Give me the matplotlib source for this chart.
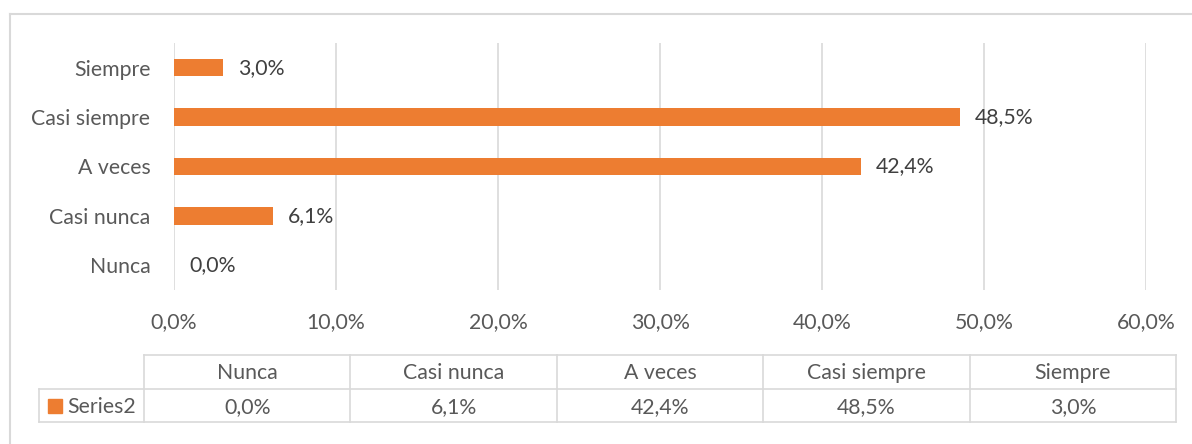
import numpy as np
import matplotlib.pyplot as plt
from matplotlib.patches import Rectangle
from matplotlib.lines import Line2D

categories = ["Nunca", "Casi nunca", "A veces", "Casi siempre", "Siempre"]
values = [0.0, 6.1, 42.4, 48.5, 3.0]
series_name = "Series2"
x_ticks = [0, 10, 20, 30, 40, 50, 60]

ORANGE = "#ED7D31"
GRID = "#D9D9D9"
TXT = "#595959"
LBL = "#404040"
FS = 15.3

plt.rcParams['font.family'] = ['Lato', 'DejaVu Sans']

W, H = 1192, 444
fig = plt.figure(figsize=(W / 100, H / 100), dpi=100)


def fx(px):
    return px / W


def fy(py):
    return 1 - py / H


def pct(v):
    return f"{v:.1f}".replace('.', ',') + '%'


# outer chart border (only top and left edges are inside the picture)
fig.lines.append(Line2D([fx(10), 1], [fy(14), fy(14)], transform=fig.transFigure,
                        color=GRID, linewidth=1.5))
fig.lines.append(Line2D([fx(10), fx(10)], [0, fy(14)], transform=fig.transFigure,
                        color=GRID, linewidth=1.5))

# bar chart
ax = fig.add_axes([fx(174), fy(290), fx(1146) - fx(174), fy(43) - fy(290)])
y = np.arange(len(categories))
ax.barh(y, values, height=0.35, color=ORANGE, zorder=3)
ax.set_xlim(0, 60)
ax.set_ylim(-0.5, len(categories) - 0.5)
ax.set_xticks(x_ticks)
ax.set_xticklabels([pct(t) for t in x_ticks], fontsize=FS, color=TXT)
ax.set_yticks(y)
ax.set_yticklabels(categories, fontsize=FS, color=TXT)
ax.tick_params(length=0)
ax.tick_params(axis='x', pad=16)
ax.tick_params(axis='y', pad=17)
ax.grid(axis='x', color=GRID, linewidth=1.2, zorder=0)
for s in ax.spines.values():
    s.set_visible(False)

for yi, v in zip(y, values):
    ax.annotate(pct(v), (v, yi), xytext=(11, 0), textcoords='offset points',
                va='center', ha='left', fontsize=FS, color=LBL)

# data table
label_w = (144 - 39) / ((1176 - 144) / len(categories))
tax = fig.add_axes([fx(39), fy(422), fx(1176) - fx(39), fy(355) - fy(422)])
tax.set_xlim(-label_w, len(categories))
tax.set_ylim(0, 2)
tax.axis('off')
lw = 1.2
tax.plot([0, len(categories)], [2, 2], color=GRID, lw=lw, clip_on=False)
tax.plot([-label_w, len(categories)], [1, 1], color=GRID, lw=lw, clip_on=False)
tax.plot([-label_w, len(categories)], [0, 0], color=GRID, lw=lw, clip_on=False)
tax.plot([-label_w, -label_w], [0, 1], color=GRID, lw=lw, clip_on=False)
for i in range(len(categories) + 1):
    tax.plot([i, i], [0, 2], color=GRID, lw=lw, clip_on=False)

for i, (c, v) in enumerate(zip(categories, values)):
    tax.text(i + 0.5, 1.45, c, ha='center', va='center', fontsize=FS, color=TXT)
    tax.text(i + 0.5, 0.45, pct(v), ha='center', va='center', fontsize=FS, color=TXT)

tax.text(-label_w + 0.135, 0.45, series_name, ha='left', va='center', fontsize=FS, color=TXT)
tax.add_patch(Rectangle((-label_w + 0.045, 0.28), 0.066, 0.42, color=ORANGE, clip_on=False))

fig.savefig("out.png", dpi=100)
